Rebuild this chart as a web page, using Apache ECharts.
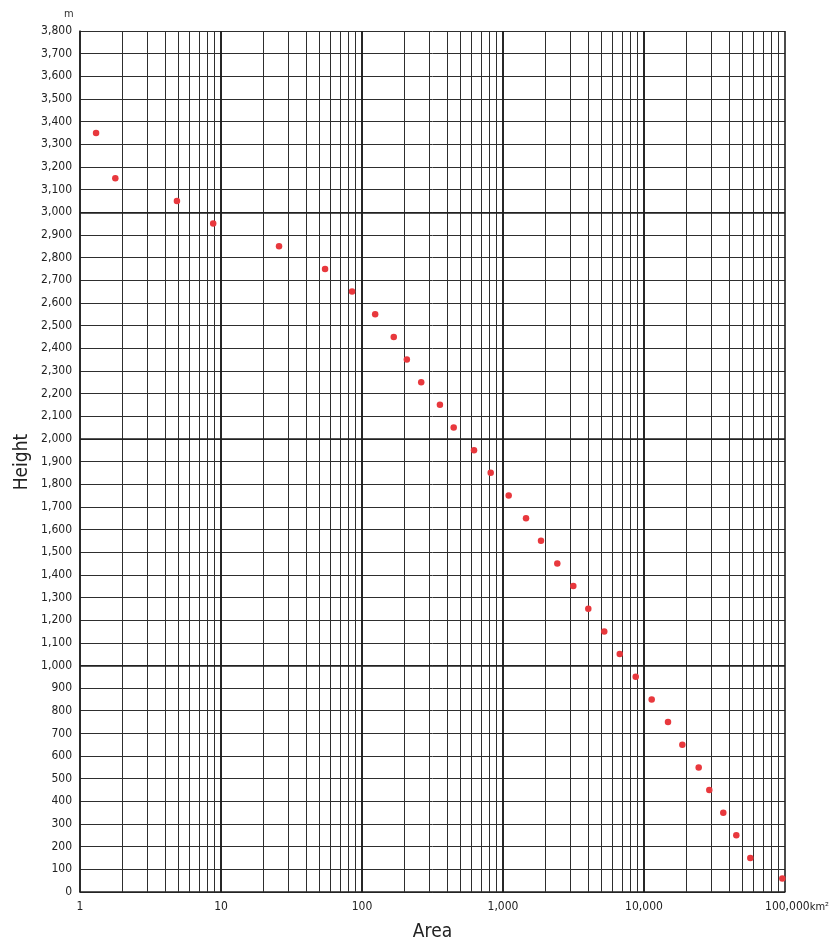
<!DOCTYPE html>
<html>
<head>
<meta charset="utf-8">
<script src="https://cdn.jsdelivr.net/npm/echarts@6/dist/echarts.min.js"></script>
<style>html,body{margin:0;padding:0;background:#fff}#c{width:829px;height:943px}</style>
</head>
<body>
<div id="c"></div>
<script>
// Data
const areas = [1.30, 1.78, 4.87, 8.8, 25.8, 54.7, 85, 124, 168, 208, 263, 357, 447, 623, 818, 1097, 1456, 1860, 2427, 3152, 4027, 5227, 6727, 8733, 11340, 14800, 18700, 24430, 29040, 36500, 45150, 56750, 95700];
const heights = [3350, 3150, 3050, 2950, 2850, 2750, 2650, 2550, 2450, 2350, 2250, 2150, 2050, 1950, 1850, 1750, 1650, 1550, 1450, 1350, 1250, 1150, 1050, 950, 850, 750, 650, 550, 450, 350, 250, 150, 60];
const xMin = 1, xMax = 100000;
const yMin = 0, yMax = 3800, yStep = 100;
const majorY = [1000, 2000, 3000];

const FONT = "'Liberation Sans Narrow', 'DejaVu Sans Condensed', 'Liberation Sans', sans-serif";
const GRID = '#2e2e2e';

// minor log grid values (2..9 per decade)
const minorX = [];
for (let d = xMin; d < xMax; d *= 10) {
  for (let k = 2; k <= 9; k++) minorX.push(d * k);
}
const decadeX = [];
for (let d = xMin * 10; d < xMax; d *= 10) decadeX.push(d);

function fmt(v) {
  return Math.round(v).toString().replace(/\B(?=(\d{3})+(?!\d))/g, ',');
}

const chart = echarts.init(document.getElementById('c'), null, {renderer: 'canvas'});
chart.setOption({
  animation: false,
  backgroundColor: '#fff',
  grid: {left: 80, right: 44, top: 31, bottom: 51, containLabel: false, outerBoundsMode: 'none'},
  xAxis: {
    type: 'log', logBase: 10, min: xMin, max: xMax,
    axisLine: {show: true, lineStyle: {color: '#222', width: 1.5}},
    axisTick: {show: false},
    axisLabel: {
      color: '#222', fontFamily: FONT, fontSize: 12, margin: 9,
      formatter: function (v) { return v >= xMax ? '{sp|}' + fmt(v) + '{u|km²}' : fmt(v); },
      rich: {
        sp: {width: 24},
        u: {fontSize: 11, fontFamily: FONT, color: '#222'}
      }
    },
    splitLine: {show: true, lineStyle: {color: '#1e1e1e', width: 1.6}},
    name: 'Area', nameLocation: 'middle', nameGap: 31,
    nameTextStyle: {color: '#222', fontFamily: FONT, fontSize: 19}
  },
  yAxis: {
    type: 'value', min: yMin, max: yMax, interval: yStep,
    axisLine: {show: true, lineStyle: {color: '#222', width: 1.5}},
    axisTick: {show: false},
    axisLabel: {color: '#222', fontFamily: FONT, fontSize: 12, margin: 8, formatter: fmt},
    splitLine: {show: true, lineStyle: {color: GRID, width: 1}}
  },
  graphic: [
    {type: 'text', left: 64, top: 9, style: {text: 'm', fill: '#333', font: '11px ' + FONT}},
    {type: 'text', x: 22, y: 462, rotation: Math.PI / 2, style: {text: 'Height', fill: '#222', font: '19px ' + FONT, align: 'center', verticalAlign: 'middle'}}
  ],
  series: [
    {
      type: 'scatter', data: [], z: 1, silent: true,
      markLine: {
        silent: true, symbol: ['none', 'none'], label: {show: false},
        lineStyle: {color: GRID, width: 1, type: 'solid'},
        data: minorX.map(v => ({xAxis: v}))
          .concat(decadeX.map(v => ({xAxis: v, lineStyle: {color: '#1e1e1e', width: 1.6, type: 'solid'}})))
          .concat(majorY.map(v => ({yAxis: v, lineStyle: {color: '#1e1e1e', width: 1.6, type: 'solid'}})))
      }
    },
    {
      type: 'scatter', z: 5, symbol: 'circle', symbolSize: 6.5,
      itemStyle: {color: '#e8383d', opacity: 1},
      data: areas.map((a, i) => [a, heights[i]])
    }
  ]
});
</script>
</body>
</html>
